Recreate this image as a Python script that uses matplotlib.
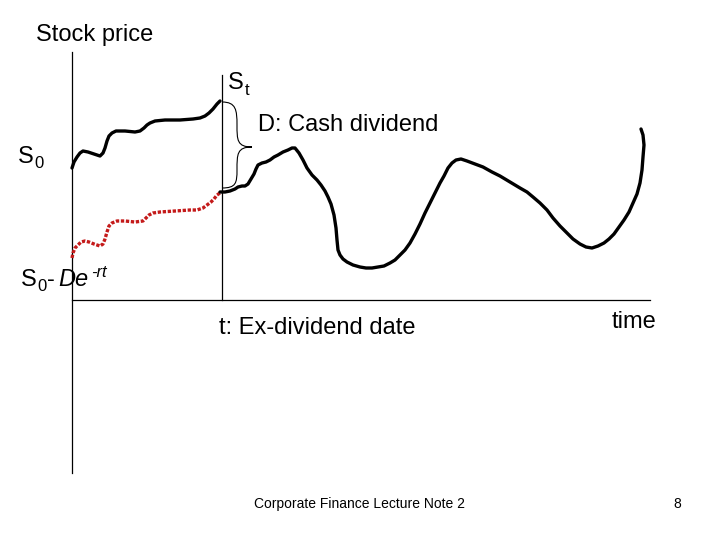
import matplotlib
matplotlib.use("Agg")
import matplotlib.pyplot as plt
from matplotlib.path import Path
from matplotlib.patches import PathPatch

plt.rcParams['font.family'] = ['Liberation Sans', 'DejaVu Sans']

# Stock price path before ex-dividend date (black)
pre_x = [72, 74, 77, 80, 83, 88, 94, 100, 103, 105, 107, 109, 112, 116, 125, 135, 140, 144, 147, 150, 155, 165, 180, 193, 200, 205, 209, 213, 217, 220]
pre_y = [168, 162, 157, 153, 151, 152, 154, 156, 153, 148, 141, 136, 133, 131, 131, 132, 131, 128, 125, 123, 121, 120, 120, 119, 118, 116, 113, 109, 104, 101]

# Dividend-adjusted path S0 - D e^{-rt} (red dotted)
adj_x = [72, 73, 75, 78, 81, 85, 89, 94, 100, 103, 105, 107, 109, 112, 117, 125, 135, 143, 146, 149, 153, 160, 175, 190, 197, 203, 207, 211, 214, 217, 220]
adj_y = [258, 253, 248, 245, 242, 241, 242, 244, 246, 244, 239, 232, 226, 223, 221, 221, 222, 221, 218, 215, 213, 212, 211, 210, 210, 208, 205, 202, 199, 195, 193]

# Stock price path after ex-dividend date (black)
post_x = [220, 225, 230, 235, 238, 242, 245, 248, 251, 254, 256, 258, 262, 266, 270, 274, 278, 283, 288, 292, 295, 299, 303, 307, 312, 317, 321, 325, 328, 331, 334, 336, 337, 338, 340, 343,
          347, 353, 360, 366, 372, 378, 384, 390, 395, 400, 405, 410, 415, 420, 425, 430, 435, 440, 444, 448, 452, 456, 461, 467, 475, 483, 492,
          500, 510, 520, 527, 533, 540, 547, 553, 560, 567, 573, 580, 586, 592, 598, 604, 609, 614, 619, 624, 629, 633, 637, 640, 642, 643, 644, 643, 641]
post_y = [192, 192, 191, 189, 187, 186, 186, 184, 179, 174, 169, 165, 163, 162, 160, 157, 155, 152, 150, 148, 148, 153, 160, 168, 175, 180, 185, 191, 197, 204, 215, 228, 240, 250, 255, 259,
          262, 265, 267, 268, 268, 267, 266, 263, 260, 255, 250, 243, 234, 224, 213, 203, 193, 183, 176, 168, 163, 160, 159, 161, 164, 167, 172,
          176, 182, 188, 192, 197, 203, 210, 218, 226, 233, 239, 244, 247, 248, 246, 243, 239, 234, 227, 220, 212, 203, 194, 183, 170, 157, 145, 135, 129]

fig = plt.figure(figsize=(7.2, 5.4), dpi=100)
ax = fig.add_axes([0, 0, 1, 1])
ax.set_xlim(0, 720)
ax.set_ylim(540, 0)
ax.axis('off')

# axes lines
ax.plot([72, 72], [52, 473], color='black', lw=0.9)
ax.plot([72, 650], [300, 300], color='black', lw=0.9)
ax.plot([222, 222], [75, 300], color='black', lw=0.9)

ax.plot(pre_x, pre_y, color='black', lw=2.4, solid_capstyle='round', solid_joinstyle='round')
ax.plot(adj_x, adj_y, color='#c41a1a', lw=2.4, linestyle=(0, (1.0, 0.5)), dash_capstyle='butt')
ax.plot(post_x, post_y, color='black', lw=2.4, solid_capstyle='round', solid_joinstyle='round')

# curly brace
verts = [(222, 102), (236, 102), (237, 110), (237, 125),
         (237, 140), (237, 147), (252, 147),
         (237, 147), (237, 154), (237, 170),
         (237, 183), (236, 188), (222, 188)]
codes = [Path.MOVETO, Path.CURVE4, Path.CURVE4, Path.CURVE4,
         Path.CURVE4, Path.CURVE4, Path.CURVE4,
         Path.CURVE4, Path.CURVE4, Path.CURVE4,
         Path.CURVE4, Path.CURVE4, Path.CURVE4]
ax.add_patch(PathPatch(Path(verts, codes), facecolor='none', edgecolor='black', lw=0.8))

fs = 17
ss = 12
ax.text(36, 41, 'Stock price', fontsize=fs, ha='left', va='baseline')
# S_t
ax.text(228, 89, 'S', fontsize=fs, ha='left', va='baseline')
ax.text(244.5, 95, 't', fontsize=ss, ha='left', va='baseline')
ax.text(258, 131, 'D: Cash dividend', fontsize=fs, ha='left', va='baseline')
# S_0
ax.text(18, 163, 'S', fontsize=fs, ha='left', va='baseline')
ax.text(34.5, 168, '0', fontsize=ss, ha='left', va='baseline')
# S_0- De^{-rt}
ax.text(21, 286, 'S', fontsize=fs, ha='left', va='baseline')
ax.text(37.5, 291, '0', fontsize=ss, ha='left', va='baseline')
ax.text(47.5, 286, '-', fontsize=fs, ha='left', va='baseline')
ax.text(58, 286, 'De', fontsize=fs, style='italic', ha='left', va='baseline')
ax.text(91, 277, '-rt', fontsize=ss, style='italic', ha='left', va='baseline')

ax.text(317, 334, 't: Ex-dividend date', fontsize=fs, ha='center', va='baseline')
ax.text(634, 328, 'time', fontsize=fs, ha='center', va='baseline')
ax.text(360, 504, 'Corporate Finance Lecture Note 2', fontsize=10, ha='center', va='center')
ax.text(677, 504, '8', fontsize=10, ha='center', va='center')

fig.savefig('out.png', dpi=100)
